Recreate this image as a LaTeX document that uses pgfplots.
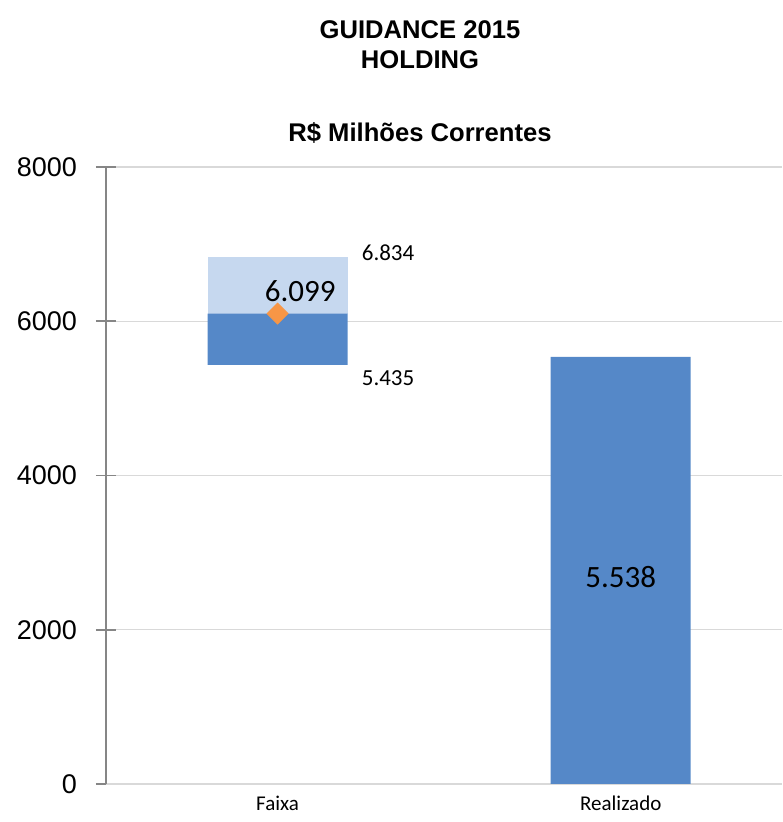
\documentclass[border=0pt]{standalone}
\usepackage{pgfplots}
\pgfplotsset{compat=1.18}
\usepackage{fontspec}
\setmainfont{Liberation Sans}
\newfontfamily\calibri{Carlito}
\definecolor{dblue}{HTML}{5588C8}
\definecolor{lblue}{HTML}{C6D8EF}
\definecolor{dorange}{HTML}{F79646}
\definecolor{axgray}{HTML}{868686}
\definecolor{grgray}{HTML}{D9D9D9}
\begin{document}
\begin{tikzpicture}
\begin{axis}[
  scale only axis,
  width=338pt, height=308.5pt,
  xmin=-0.5, xmax=1.47,
  ymin=0, ymax=8000,
  ybar stacked, bar width=0.408,
  xtick={0,1}, xticklabels={Faixa,Realizado},
  xtick style={draw=none},
  ytick={0,2000,4000,6000,8000},
  ymajorgrids, grid style={grgray, line width=0.6pt},
  axis x line*=bottom, axis y line*=left,
  x axis line style={grgray, line width=0.8pt, -},
  y axis line style={axgray, line width=0.9pt, -},
  ytick style={axgray, line width=0.9pt},
  tick align=center, major tick length=10pt,
  yticklabel style={font=\fontsize{13.5}{15}\selectfont, xshift=-6pt},
  xticklabel style={font=\calibri\fontsize{10.5}{12}\selectfont, yshift=2.5pt},
  /pgf/number format/assume math mode=true,
  scaled y ticks=false,
  yticklabel={\pgfmathprintnumber[fixed,1000 sep={}]{\tick}},
  clip=false,
]
\addplot[draw=none, fill=none] coordinates {(0,5435) (1,0)};
\addplot[draw=none, fill=dblue] coordinates {(0,664) (1,5538)};
\addplot[draw=none, fill=lblue] coordinates {(0,735) (1,0)};
\end{axis}
\begin{axis}[
  scale only axis,
  width=338pt, height=308.5pt,
  xmin=-0.5, xmax=1.47,
  ymin=0, ymax=8000,
  hide axis, clip=false,
]
\addplot[only marks, mark=square*, mark size=3.7pt, mark options={rotate=45}, color=dorange] coordinates {(0,6099)};
\node[anchor=west, font=\calibri\fontsize{11.5}{13}\selectfont] at (axis cs:0.225,6885) {6.834};
\node[anchor=west, font=\calibri\fontsize{11.5}{13}\selectfont] at (axis cs:0.225,5265) {5.435};
\node[font=\calibri\fontsize{15.5}{18}\selectfont] at (axis cs:0.066,6390) {6.099};
\node[font=\calibri\fontsize{15.5}{18}\selectfont] at (axis cs:1,2685) {5.538};
\end{axis}
\node[font=\bfseries\fontsize{12.8}{15}\selectfont] at (157pt,377pt) {GUIDANCE 2015};
\node[font=\bfseries\fontsize{12.8}{15}\selectfont] at (157pt,362pt) {HOLDING};
\node[font=\bfseries\fontsize{12.8}{15}\selectfont] at (157pt,325.5pt) {R\$ Milhões Correntes};
\pgfresetboundingbox
\path[use as bounding box] (-53pt,-19pt) rectangle (338pt,392pt);
\end{tikzpicture}
\end{document}
